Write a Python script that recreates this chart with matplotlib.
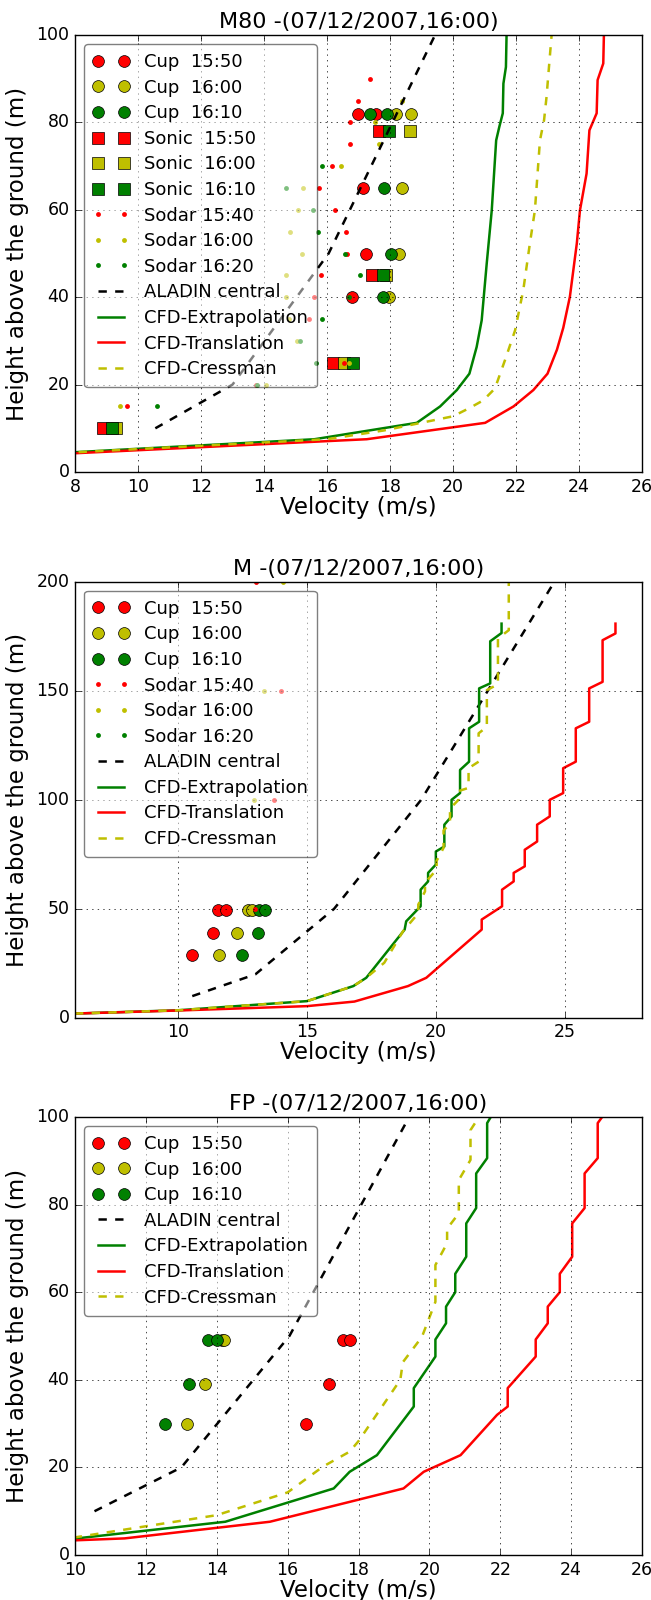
import matplotlib
matplotlib.use('Agg')
from matplotlib import pyplot as plt

# ---------------- shared ----------------
colors = ['r', 'y', 'g']
cup_labels = ['Cup  15:50', 'Cup  16:00', 'Cup  16:10']
sonic_labels = ['Sonic  15:50', 'Sonic  16:00', 'Sonic  16:10']
sodar_labels = ['Sodar 15:40', 'Sodar 16:00', 'Sodar 16:20']

aladin_h = [10, 20, 50, 100, 200]
aladin_v = [10.55, 13.0, 16.05, 19.43, 24.6]

# ---------------- M80 ----------------
m80_cup_h = [82, 82, 65, 50, 40]
m80_cup_1550 = [16.97, 17.56, 17.15, 17.24, 16.80]
m80_cup_1600 = [18.19, 18.67, 18.37, 18.30, 17.98]
m80_cup_1610 = [17.38, 17.92, 17.82, 18.02, 17.79]

m80_sonic_h = [78, 45, 25, 10]
m80_sonic_1550 = [17.65, 17.43, 16.19, 8.89]
m80_sonic_1600 = [18.63, 17.87, 16.55, 9.30]
m80_sonic_1610 = [17.97, 17.79, 16.84, 9.18]

m80_sodar_1540_h = [15, 20, 25, 35, 40, 45, 50, 55, 60, 65, 70, 75, 80, 85, 90]
m80_sodar_1540 = [9.64, 13.74, 16.55, 15.44, 15.59, 15.81, 16.63, 16.59, 16.25, 15.76, 16.17, 16.72, 16.72, 16.97, 17.38]
m80_sodar_1600_h = [15, 20, 25, 30, 35, 40, 45, 50, 55, 60, 65, 70, 75, 80, 85]
m80_sodar_1600 = [9.44, 14.05, 16.71, 15.05, 14.78, 14.69, 14.71, 15.21, 14.83, 15.08, 15.25, 16.43, 17.66, 17.52, 18.37]
m80_sodar_1620_h = [15, 20, 25, 30, 35, 40, 45, 50, 55, 60, 65, 70]
m80_sodar_1620 = [10.59, 13.79, 15.64, 15.15, 15.85, 16.70, 17.04, 16.57, 15.70, 15.57, 14.69, 15.85]

m80_extrap_v = [6.0, 15.6, 18.85, 19.59, 20.12, 20.52, 20.75, 20.91, 21.07, 21.23, 21.37, 21.47, 21.58, 21.60, 21.68, 21.70]
m80_extrap_h = [3.75, 7.5, 11.25, 15.0, 18.75, 22.5, 28.6, 34.7, 47.7, 59.9, 75.9, 79.0, 82.1, 88.9, 92.7, 100]
m80_transl_v = [6.0, 17.26, 21.02, 21.92, 22.55, 23.0, 23.3, 23.5, 23.71, 23.93, 24.03, 24.24, 24.33, 24.56, 24.59, 24.77, 24.79]
m80_transl_h = [3.6, 7.5, 11.25, 15.0, 18.75, 22.5, 28.0, 33.0, 40.1, 52.3, 59.9, 68.3, 78.2, 82.1, 89.7, 93.5, 100]
m80_cress_v = [6.0, 16.0, 17.8, 20.0, 20.54, 20.96, 21.33, 21.65, 21.97, 22.23, 22.44, 22.60, 22.76, 22.89, 22.97, 23.02, 23.13]
m80_cress_h = [3.75, 7.5, 9.5, 12.75, 14.7, 16.4, 19.1, 25.6, 32.4, 41.6, 52.3, 59.9, 75.9, 80.5, 85.9, 90.4, 100]

# ---------------- M ----------------
m_cup_h = [49.5, 49.5, 39, 29]
m_cup_1550 = [11.54, 11.86, 11.37, 10.55]
m_cup_1600 = [12.71, 12.87, 12.30, 11.59]
m_cup_1610 = [13.13, 13.39, 13.09, 12.48]

m_sodar_1540_h = [50, 100, 150, 200]
m_sodar_1540 = [13.0, 13.73, 14.0, 13.03]
m_sodar_1600_h = [100, 150, 200]
m_sodar_1600 = [12.95, 13.34, 14.08]
m_sodar_1620_h = []
m_sodar_1620 = []

m_extrap_v = [6.0, 10.0, 15.0, 16.8, 17.3, 18.79, 18.85, 19.41, 19.41, 19.70, 19.70, 20.0, 20.0, 20.33, 20.33,
              20.61, 20.61, 20.94, 20.94, 21.29, 21.29, 21.68, 21.68, 22.11, 22.11, 22.55, 22.55]
m_extrap_h = [2.0, 3.5, 7.7, 14.6, 18.4, 40.5, 44.3, 51.2, 58.8, 62.6, 66.5, 70.3, 76.3, 78.6, 88.6,
              92.4, 100, 103.1, 113.7, 117.5, 132.8, 135.8, 151.1, 153.4, 172.7, 176.5, 180.8]
m_transl_v = [6.0, 10.0, 15.0, 16.84, 18.92, 19.63, 21.78, 21.78, 22.57, 22.57, 23.02, 23.02, 23.45, 23.45,
              23.93, 23.93, 24.42, 24.42, 24.94, 24.94, 25.43, 25.43, 25.95, 25.95, 26.47, 26.47, 26.97, 26.97]
m_transl_h = [2.0, 3.4, 5.4, 7.5, 14.6, 18.4, 40.5, 45.1, 51.2, 58.8, 62.6, 66.5, 69.5, 77.1,
              80.9, 88.6, 92.4, 100, 103.1, 114.5, 117.5, 132.8, 135.8, 151.1, 154.1, 173.2, 176.3, 180.8]
m_cress_v = [6.0, 10.0, 15.0, 16.8, 17.3, 18.0, 18.73, 19.32, 19.32, 19.58, 19.58, 20.03, 20.03, 20.3, 20.3,
             20.55, 20.55, 20.88, 20.88, 21.27, 21.27, 21.66, 21.66, 21.98, 21.98, 22.41, 22.41, 22.83, 22.83]
m_cress_h = [2.0, 3.5, 7.7, 14.6, 18.4, 25.3, 39.8, 48.0, 52.0, 58.0, 62.0, 68.0, 72.0, 78.0, 86.0,
             89.0, 96.0, 100, 104.0, 105.5, 114.5, 117.5, 130.5, 133.5, 150.3, 153.0, 174.0, 177.8, 200]

# ---------------- FP ----------------
fp_cup_h = [49, 49, 39, 30]
fp_cup_1550 = [17.55, 17.77, 17.18, 16.52]
fp_cup_1600 = [14.14, 14.21, 13.67, 13.15]
fp_cup_1610 = [13.74, 14.0, 13.23, 12.54]

fp_extrap_v = [9.5, 14.24, 17.30, 17.75, 18.52, 19.56, 19.56, 20.17, 20.17, 20.47, 20.47, 20.73, 20.73,
               21.04, 21.04, 21.32, 21.32, 21.63, 21.63, 21.77]
fp_extrap_h = [3.3, 7.6, 15.2, 19.0, 22.8, 33.9, 38.1, 45.3, 49.2, 52.9, 56.7, 60.0, 64.2,
               68.1, 75.7, 79.2, 87.1, 90.6, 98.6, 100.5]
fp_transl_v = [9.5, 11.4, 15.5, 19.27, 19.84, 20.88, 21.91, 22.21, 22.21, 23.0, 23.0, 23.34, 23.34,
               23.68, 23.68, 24.03, 24.03, 24.38, 24.38, 24.75, 24.75, 24.92]
fp_transl_h = [3.2, 3.8, 7.6, 15.2, 19.0, 22.8, 32.0, 33.9, 38.1, 45.3, 49.2, 52.9, 56.7,
               60.0, 64.2, 68.1, 75.7, 79.2, 87.1, 90.6, 98.6, 100.5]
fp_cress_v = [9.5, 14.0, 16.0, 17.0, 17.75, 18.0, 19.18, 19.25, 19.79, 20.17, 20.17, 20.50, 20.50,
              20.83, 20.83, 21.16, 21.16, 21.44]
fp_cress_h = [3.4, 9.1, 14.3, 20.2, 23.6, 26.0, 40.0, 44.0, 49.8, 57.8, 66.2, 71.2, 74.5,
              78.0, 85.6, 90.2, 97.0, 100.5]


def draw_panel(ax, title, cups, cup_h, sodars=None, sonics=None, sonic_h=None, cfd=None):
    for v, c, lab in zip(cups, colors, cup_labels):
        ax.plot(v, cup_h, 'o', color=c, ms=8.5, mec='k', mew=0.5, label=lab)
    if sonics is not None:
        for v, c, lab in zip(sonics, colors, sonic_labels):
            ax.plot(v, sonic_h, 's', color=c, ms=8.5, mec='k', mew=0.5, label=lab)
    if sodars is not None:
        for (v, h), c, lab in zip(sodars, colors, sodar_labels):
            ax.plot(v, h, '.', color=c, ms=7, mec=c, mew=0, label=lab)
    ax.plot(aladin_v, aladin_h, 'k--', lw=1.8, label='ALADIN central')
    ax.plot(cfd[0][0], cfd[0][1], 'g-', lw=1.8, label='CFD-Extrapolation')
    ax.plot(cfd[1][0], cfd[1][1], 'r-', lw=1.8, label='CFD-Translation')
    ax.plot(cfd[2][0], cfd[2][1], 'y--', lw=1.8, label='CFD-Cressman')
    ax.set_title(title, fontsize=16)
    ax.set_xlabel('Velocity (m/s)', fontsize=16.5, labelpad=0)
    ax.set_ylabel('Height above the ground (m)', fontsize=16.5)
    ax.tick_params(labelsize=12.5)
    ax.grid(True)
    ax.legend(loc='upper left', fancybox=True, framealpha=0.5, fontsize=13, numpoints=2,
              labelspacing=0.42, borderpad=0.5)


plt.style.use('classic')
fig = plt.figure(figsize=(6.51, 16.0), dpi=100, facecolor='white')

ax1 = fig.add_axes([0.1152, 0.705, 0.8710, 0.2731])
draw_panel(ax1, 'M80 -(07/12/2007,16:00)',
           [m80_cup_1550, m80_cup_1600, m80_cup_1610], m80_cup_h,
           sodars=[(m80_sodar_1540, m80_sodar_1540_h), (m80_sodar_1600, m80_sodar_1600_h),
                   (m80_sodar_1620, m80_sodar_1620_h)],
           sonics=[m80_sonic_1550, m80_sonic_1600, m80_sonic_1610], sonic_h=m80_sonic_h,
           cfd=[(m80_extrap_v, m80_extrap_h), (m80_transl_v, m80_transl_h), (m80_cress_v, m80_cress_h)])
ax1.set_xlim(8, 26)
ax1.set_ylim(0, 100)
ax1.set_xticks(range(8, 27, 2))
ax1.set_yticks(range(0, 101, 20))

ax2 = fig.add_axes([0.1152, 0.3638, 0.8710, 0.2726])
draw_panel(ax2, 'M -(07/12/2007,16:00)',
           [m_cup_1550, m_cup_1600, m_cup_1610], m_cup_h,
           sodars=[(m_sodar_1540, m_sodar_1540_h), (m_sodar_1600, m_sodar_1600_h),
                   (m_sodar_1620, m_sodar_1620_h)],
           cfd=[(m_extrap_v, m_extrap_h), (m_transl_v, m_transl_h), (m_cress_v, m_cress_h)])
ax2.set_xlim(6, 28)
ax2.set_ylim(0, 200)
ax2.set_xticks([10, 15, 20, 25])
ax2.set_yticks(range(0, 201, 50))

ax3 = fig.add_axes([0.1152, 0.0281, 0.8710, 0.2738])
draw_panel(ax3, 'FP -(07/12/2007,16:00)',
           [fp_cup_1550, fp_cup_1600, fp_cup_1610], fp_cup_h,
           cfd=[(fp_extrap_v, fp_extrap_h), (fp_transl_v, fp_transl_h), (fp_cress_v, fp_cress_h)])
ax3.set_xlim(10, 26)
ax3.set_ylim(0, 100)
ax3.set_xticks(range(10, 27, 2))
ax3.set_yticks(range(0, 101, 20))

fig.savefig('out.png', dpi=100, facecolor='white')
